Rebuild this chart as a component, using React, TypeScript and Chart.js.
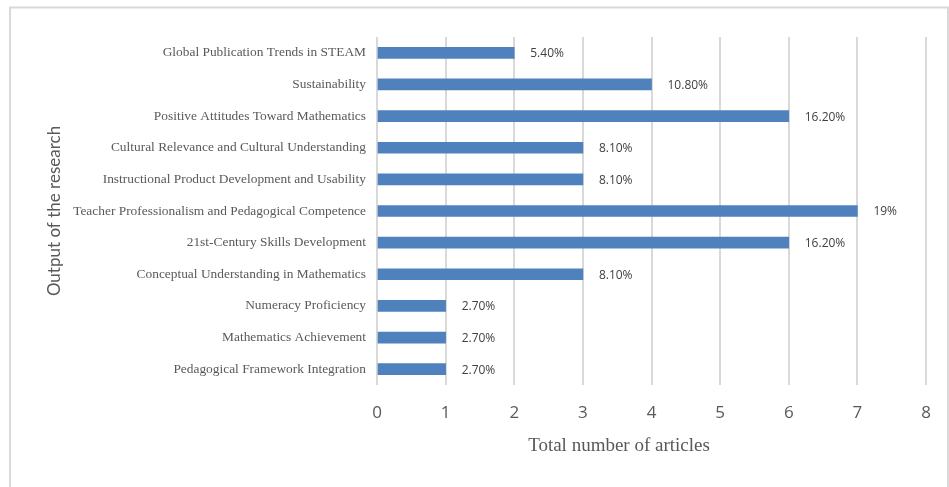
import React, { useEffect, useRef } from "react";
import { Chart, registerables } from "chart.js";

Chart.register(...registerables);

const categories = [
  "Global Publication Trends in STEAM",
  "Sustainability",
  "Positive Attitudes Toward Mathematics",
  "Cultural Relevance and Cultural Understanding",
  "Instructional Product Development and Usability",
  "Teacher Professionalism and Pedagogical Competence",
  "21st-Century Skills Development",
  "Conceptual Understanding in Mathematics",
  "Numeracy Proficiency",
  "Mathematics Achievement",
  "Pedagogical Framework Integration",
];
const articleCounts = [2, 4, 6, 3, 3, 7, 6, 3, 1, 1, 1];
const percentLabels = [
  "5.40%",
  "10.80%",
  "16.20%",
  "8.10%",
  "8.10%",
  "19%",
  "16.20%",
  "8.10%",
  "2.70%",
  "2.70%",
  "2.70%",
];
const xTitle = "Total number of articles";
const yTitle = "Output of the research";

const W = 949;
const H = 487;

export default function App() {
  const ref = useRef<HTMLCanvasElement | null>(null);

  useEffect(() => {
    document.body.style.margin = "0";
    const canvas = ref.current;
    if (!canvas) return;

    const decor = {
      id: "decor",
      beforeDraw(chart: any) {
        const ctx = chart.ctx;
        ctx.save();
        ctx.fillStyle = "#ffffff";
        ctx.fillRect(0, 0, W, H);
        ctx.strokeStyle = "#d9d9d9";
        ctx.lineWidth = 2;
        ctx.strokeRect(10, 7.5, 938, 500);
        ctx.restore();
      },
      afterDatasetsDraw(chart: any) {
        const ctx = chart.ctx;
        const meta = chart.getDatasetMeta(0);
        ctx.save();
        ctx.font = '12px "Open Sans"';
        ctx.fillStyle = "#404040";
        ctx.textAlign = "left";
        ctx.textBaseline = "middle";
        meta.data.forEach((bar: any, i: number) => {
          ctx.fillText(percentLabels[i], bar.x + 16, bar.y + 1);
        });
        ctx.restore();
      },
      afterDraw(chart: any) {
        const ctx = chart.ctx;
        ctx.save();
        ctx.fillStyle = "#595959";
        ctx.textAlign = "center";
        ctx.textBaseline = "middle";
        ctx.font = '19px "Liberation Serif"';
        ctx.fillText(xTitle, 619, 446);
        ctx.translate(55, 211);
        ctx.rotate(-Math.PI / 2);
        ctx.font = '17px "Lato"';
        ctx.fillText(yTitle, 0, 0);
        ctx.restore();
      },
    };

    const chart = new Chart(canvas, {
      type: "bar",
      data: {
        labels: categories,
        datasets: [
          {
            data: articleCounts,
            backgroundColor: "#4f81bd",
            borderWidth: 0,
            barThickness: 11,
          },
        ],
      },
      options: {
        indexAxis: "y",
        animation: false,
        responsive: false,
        devicePixelRatio: 1,
        layout: { padding: { top: 37, right: 23, left: 0, bottom: 0 } },
        plugins: {
          legend: { display: false },
          tooltip: { enabled: false },
          title: { display: false },
        },
        scales: {
          x: {
            min: 0,
            max: 8,
            ticks: {
              stepSize: 1,
              padding: 18,
              color: "#595959",
              font: { family: "Open Sans", size: 17 },
            },
            grid: {
              color: "#d9d9d9",
              lineWidth: 2,
              drawTicks: false,
            },
            border: { display: false },
            afterFit(scale: any) {
              scale.height = 102;
            },
          },
          y: {
            ticks: {
              padding: 11,
              color: "#595959",
              font: { family: "Liberation Serif", size: 13.4 },
            },
            grid: { display: false, drawTicks: false },
            border: { display: false },
            afterFit(scale: any) {
              scale.width = 377;
            },
          },
        },
      },
      plugins: [decor],
    } as any);

    return () => chart.destroy();
  }, []);

  return (
    <div style={{ position: "fixed", left: 0, top: 0, width: W, height: H }}>
      <canvas ref={ref} width={W} height={H} style={{ display: "block" }} />
    </div>
  );
}
